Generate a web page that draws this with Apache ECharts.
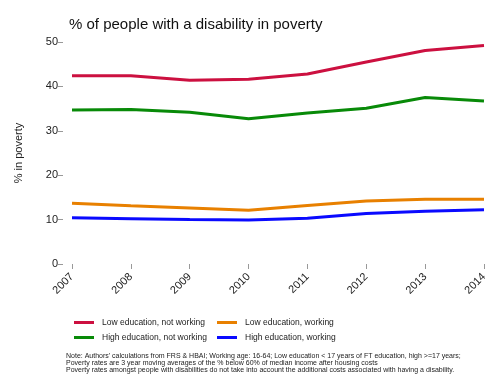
<!DOCTYPE html>
<html><head><meta charset="utf-8">
<script src="https://cdn.jsdelivr.net/npm/echarts@6/dist/echarts.min.js"></script>
<style>html,body{margin:0;padding:0;background:#fff}#c{width:500px;height:390px}</style>
</head><body><div id="c"></div>
<script>
const years = ['2007','2008','2009','2010','2011','2012','2013','2014'];
const lowNotWorking = [42.4, 42.4, 41.4, 41.6, 42.8, 45.5, 48.1, 49.2];
const highNotWorking = [34.7, 34.8, 34.2, 32.7, 34.0, 35.1, 37.5, 36.7];
const lowWorking = [13.7, 13.1, 12.6, 12.1, 13.2, 14.2, 14.6, 14.6];
const highWorking = [10.4, 10.2, 10.0, 9.9, 10.3, 11.4, 11.9, 12.2];
const yTicks = [0, 10, 20, 30, 40, 50];

const chart = echarts.init(document.getElementById('c'), null, {renderer:'canvas'});
const font = 'Liberation Sans, Arial, Helvetica, sans-serif';
function s(name, data, color){
  return {name, type:'line', data, symbol:'none', lineStyle:{color, width:3}, itemStyle:{color}, animation:false};
}
const legText = {fontSize:8.5, color:'#222', fontFamily:font, padding:[0,0,0,3]};
chart.setOption({
  animation:false,
  textStyle:{fontFamily:font},
  title:{text:'% of people with a disability in poverty', left:64, top:12,
    textStyle:{fontSize:15, fontWeight:'normal', color:'#111', fontFamily:font}},
  grid:{left:72, right:16, top:42, bottom:126, containLabel:false},
  xAxis:{type:'category', data:years, boundaryGap:false, offset:7,
    axisLine:{show:false}, axisTick:{show:true, length:5, alignWithLabel:true, lineStyle:{color:'#999'}},
    axisLabel:{rotate:45, fontSize:11, color:'#222', margin:4, fontFamily:font}, splitLine:{show:false}},
  yAxis:{type:'value', min:0, max:50, interval:10, offset:9,
    name:'% in poverty', nameLocation:'middle', nameGap:39, nameTextStyle:{fontSize:11, color:'#222', fontFamily:font},
    axisLine:{show:false}, axisTick:{show:true, length:5, lineStyle:{color:'#999'}},
    axisLabel:{fontSize:11, color:'#222', margin:5, fontFamily:font,
      formatter:v=>yTicks.includes(v)?String(v):''}, splitLine:{show:false}},
  legend:[
    {data:['Low education, not working','High education, not working'], orient:'vertical', left:69, top:313, itemGap:6,
      itemWidth:20, itemHeight:3, icon:'rect', textStyle:legText},
    {data:['Low education, working','High education, working'], orient:'vertical', left:212, top:313, itemGap:6,
      itemWidth:20, itemHeight:3, icon:'rect', textStyle:legText}
  ],
  graphic:[{type:'text', left:66, top:353, style:{
    text:"Note: Authors' calculations from FRS & HBAI; Working age: 16-64; Low education < 17 years of FT education, high >=17 years;\nPoverty rates are 3 year moving averages of the % below 60% of median income after housing costs\nPoverty rates amongst people with disabilities do not take into account the additional costs associated with having a disability.",
    font:'7px '+font, fill:'#222', lineHeight:6.8}}],
  series:[
    s('Low education, not working', lowNotWorking, '#cc1040'),
    s('High education, not working', highNotWorking, '#088a08'),
    s('Low education, working', lowWorking, '#e88000'),
    s('High education, working', highWorking, '#0a0aff')
  ]
});
</script></body></html>
